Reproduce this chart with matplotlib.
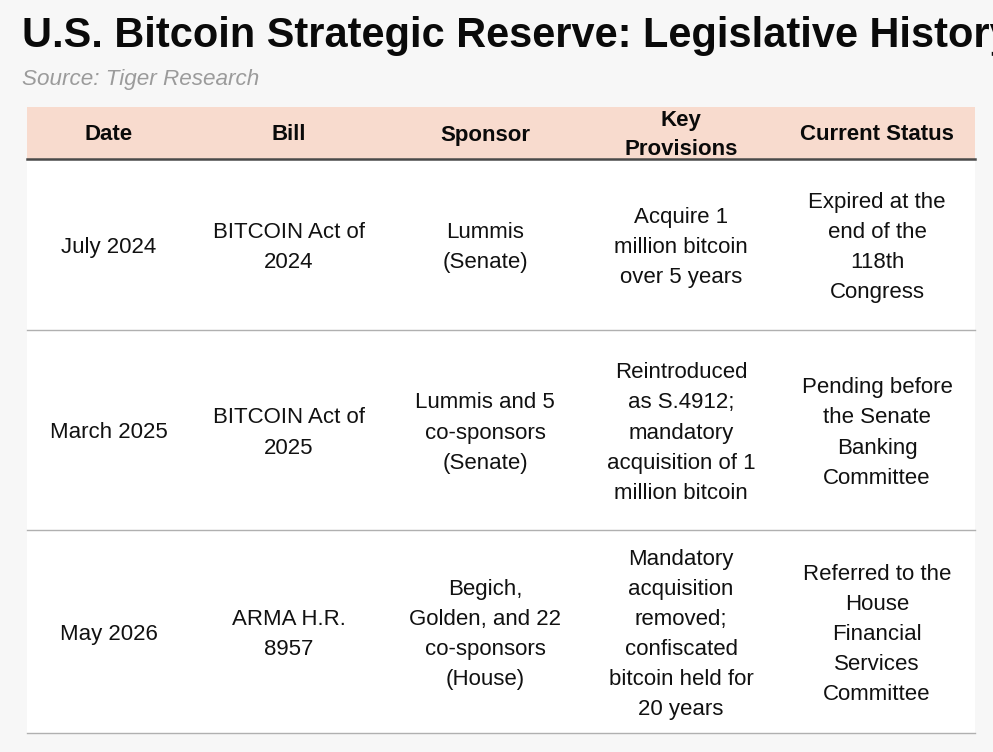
import matplotlib

matplotlib.use("Agg")
import matplotlib.pyplot as plt
import matplotlib.patches as patches

plt.rcParams["font.family"] = ["Liberation Sans", "DejaVu Sans"]

title = "U.S. Bitcoin Strategic Reserve: Legislative History"
source = "Source: Tiger Research"

columns = ["Date", "Bill", "Sponsor", "Key\nProvisions", "Current Status"]

dates = ["July 2024", "March 2025", "May 2026"]
bills = ["BITCOIN Act of\n2024", "BITCOIN Act of\n2025", "ARMA H.R.\n8957"]
sponsors = [
    "Lummis\n(Senate)",
    "Lummis and 5\nco-sponsors\n(Senate)",
    "Begich,\nGolden, and 22\nco-sponsors\n(House)",
]
provisions = [
    "Acquire 1\nmillion bitcoin\nover 5 years",
    "Reintroduced\nas S.4912;\nmandatory\nacquisition of 1\nmillion bitcoin",
    "Mandatory\nacquisition\nremoved;\nconfiscated\nbitcoin held for\n20 years",
]
statuses = [
    "Expired at the\nend of the\n118th\nCongress",
    "Pending before\nthe Senate\nBanking\nCommittee",
    "Referred to the\nHouse\nFinancial\nServices\nCommittee",
]

# layout (pixels)
W, H = 993, 752
col_edges = [27, 191, 387, 583, 779, 975]
head_top, head_bot = 107, 159
row_edges = [159, 330, 530, 733]

fig = plt.figure(figsize=(W / 100, H / 100), dpi=100)
fig.patch.set_facecolor("#f7f7f7")
ax = fig.add_axes([0, 0, 1, 1])
ax.set_xlim(0, W)
ax.set_ylim(H, 0)
ax.axis("off")

# the reference title runs slightly past the right edge
ax.text(22, 36, title, fontsize=29.9, fontweight="bold", color="#0a0a0a",
        ha="left", va="center", clip_on=True)
ax.text(22, 79, source, fontsize=16.2, style="italic", color="#9b9b9b",
        ha="left", va="center")

left, right = col_edges[0], col_edges[-1]
ax.add_patch(patches.Rectangle((left, head_top), right - left, head_bot - head_top,
                               facecolor="#f8dbce", edgecolor="none", zorder=1))
ax.add_patch(patches.Rectangle((left, row_edges[0]), right - left,
                               row_edges[-1] - row_edges[0],
                               facecolor="white", edgecolor="none", zorder=1))
ax.plot([left, right], [head_bot, head_bot], color="#4a4a4a", lw=1.8, zorder=3)
for y in row_edges[1:]:
    ax.plot([left, right], [y, y], color="#b0b0b0", lw=1.0, zorder=3)

centers = [(a + b) / 2 for a, b in zip(col_edges[:-1], col_edges[1:])]
for cx, name in zip(centers, columns):
    ax.text(cx, (head_top + head_bot) / 2 + 2, name, fontsize=16, fontweight="bold",
            ha="center", va="center", linespacing=1.45, color="#0a0a0a", zorder=4)

table = list(zip(dates, bills, sponsors, provisions, statuses))
for i, row in enumerate(table):
    cy = (row_edges[i] + row_edges[i + 1]) / 2 + 3
    for cx, txt in zip(centers, row):
        ax.text(cx, cy, txt, fontsize=16, ha="center", va="center",
                linespacing=1.57, color="#111111", zorder=4)

fig.savefig("out.png", dpi=100, facecolor=fig.get_facecolor())
